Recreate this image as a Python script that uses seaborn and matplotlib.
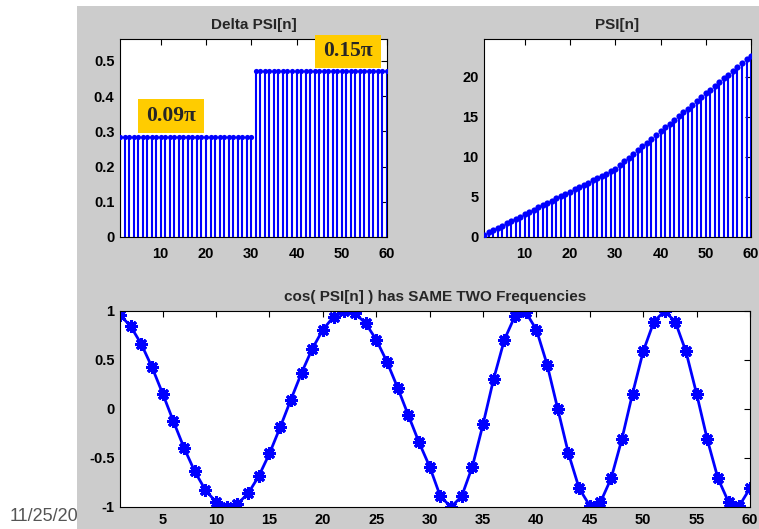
import matplotlib
matplotlib.use('Agg')
import matplotlib.pyplot as plt
import seaborn as sns
import pandas as pd
from matplotlib.patches import Rectangle

# Data
n = list(range(1, 61))
delta_psi = [0.2827] * 30 + [0.4712] * 30
psi = [0.28, 0.57, 0.85, 1.13, 1.41, 1.70, 1.98, 2.26, 2.54, 2.83,
       3.11, 3.39, 3.68, 3.96, 4.24, 4.52, 4.81, 5.09, 5.37, 5.65,
       5.94, 6.22, 6.50, 6.79, 7.07, 7.35, 7.63, 7.92, 8.20, 8.48,
       8.95, 9.42, 9.90, 10.37, 10.84, 11.31, 11.78, 12.25, 12.72, 13.19,
       13.67, 14.14, 14.61, 15.08, 15.55, 16.02, 16.49, 16.96, 17.44, 17.91,
       18.38, 18.85, 19.32, 19.79, 20.26, 20.73, 21.21, 21.68, 22.15, 22.62]
cos_psi = [0.960, 0.844, 0.661, 0.426, 0.156, -0.125, -0.397, -0.637, -0.827, -0.951,
           -0.9995, -0.969, -0.861, -0.685, -0.454, -0.187, 0.094, 0.368, 0.613, 0.809,
           0.941, 0.998, 0.976, 0.876, 0.707, 0.482, 0.218, -0.063, -0.339, -0.588,
           -0.891, -1.000, -0.891, -0.588, -0.156, 0.309, 0.707, 0.951, 0.988, 0.809,
           0.454, 0.000, -0.454, -0.809, -0.988, -0.951, -0.707, -0.309, 0.156, 0.588,
           0.891, 1.000, 0.891, 0.588, 0.156, -0.309, -0.707, -0.951, -0.988, -0.809]

df = pd.DataFrame({'n': n, 'delta': delta_psi, 'psi': psi, 'cos': cos_psi})

sns.set_style('white')
plt.rcParams['font.family'] = ['Liberation Sans', 'DejaVu Sans']

fig = plt.figure(figsize=(7.59, 5.29), dpi=100)
fig.patch.set_facecolor('white')

# slide date behind the grey matlab figure
fig.text(10 / 759, 1 - 521 / 529, '11/25/2010', fontsize=13, color='#555555', zorder=-2)
fig.patches.append(Rectangle((77 / 759, 0), 1 - 77 / 759, 1 - 6 / 529, transform=fig.transFigure,
                             facecolor='#cccccc', edgecolor='none', zorder=-1))

ax1 = fig.add_axes([0.1581, 0.552, 0.3518, 0.3743])
ax2 = fig.add_axes([0.6377, 0.552, 0.3518, 0.3743])
ax3 = fig.add_axes([0.1581, 0.0416, 0.830, 0.3705])

blue = '#0000ff'


def style(ax, xpad):
    ax.set_facecolor('white')
    for s in ax.spines.values():
        s.set_visible(True)
        s.set_color('black')
        s.set_linewidth(0.8)
    ax.tick_params(direction='in', top=True, right=True, length=4, width=0.8,
                   labelsize=10.5, pad=4, colors='black')
    ax.tick_params(axis='x', pad=xpad)
    for lab in ax.get_xticklabels() + ax.get_yticklabels():
        lab.set_fontweight('bold')
    ax.set_xlabel('')
    ax.set_ylabel('')


# Delta PSI stems
ax1.vlines(df['n'], 0, df['delta'], color=blue, linewidth=1.5)
sns.scatterplot(data=df, x='n', y='delta', ax=ax1, color=blue, s=14, edgecolor=blue, linewidth=0, zorder=3)
ax1.set_xlim(1, 60)
ax1.set_ylim(0, 0.5625)
ax1.set_xticks([10, 20, 30, 40, 50, 60])
ax1.set_yticks([0, 0.1, 0.2, 0.3, 0.4, 0.5])
ax1.set_yticklabels(['0', '0.1', '0.2', '0.3', '0.4', '0.5'])
ax1.set_title('Delta PSI[n]', fontsize=11, fontweight='bold', pad=7)
style(ax1, 7)

# yellow labels
for (x0, y0, w, h), label in [((4.98, 0.295, 14.58, 0.096), '0.09\u03c0'),
                              ((44.1, 0.479, 14.58, 0.096), '0.15\u03c0')]:
    ax1.add_patch(Rectangle((x0, y0), w, h, facecolor='#ffcc00', edgecolor='none',
                            clip_on=False, zorder=5))
    ax1.text(x0 + w / 2, y0 + h / 2, label, fontsize=15.5, fontweight='bold',
             family='Liberation Serif', ha='center', va='center', clip_on=False, zorder=6)

# PSI stems
ax2.vlines(df['n'], 0, df['psi'], color=blue, linewidth=1.5)
sns.scatterplot(data=df, x='n', y='psi', ax=ax2, color=blue, s=20, edgecolor=blue, linewidth=0, zorder=3)
ax2.set_xlim(1, 60)
ax2.set_ylim(0, 24.7)
ax2.set_xticks([10, 20, 30, 40, 50, 60])
ax2.set_yticks([0, 5, 10, 15, 20])
ax2.set_title('PSI[n]', fontsize=11, fontweight='bold', pad=7)
style(ax2, 7)

# cos(PSI)
sns.lineplot(data=df, x='n', y='cos', ax=ax3, color=blue, linewidth=2, marker=(8, 2, 0),
             markersize=9, markeredgewidth=2.2, markeredgecolor=blue)
ax3.set_xlim(1, 60)
ax3.set_ylim(-1, 1)
ax3.set_xticks(list(range(5, 61, 5)))
ax3.set_yticks([-1, -0.5, 0, 0.5, 1])
ax3.set_yticklabels(['-1', '-0.5', '0', '0.5', '1'])
ax3.set_title('cos( PSI[n] ) has SAME TWO Frequencies', fontsize=11, fontweight='bold', pad=7)
style(ax3, 4)

fig.savefig('out.png', dpi=100)
